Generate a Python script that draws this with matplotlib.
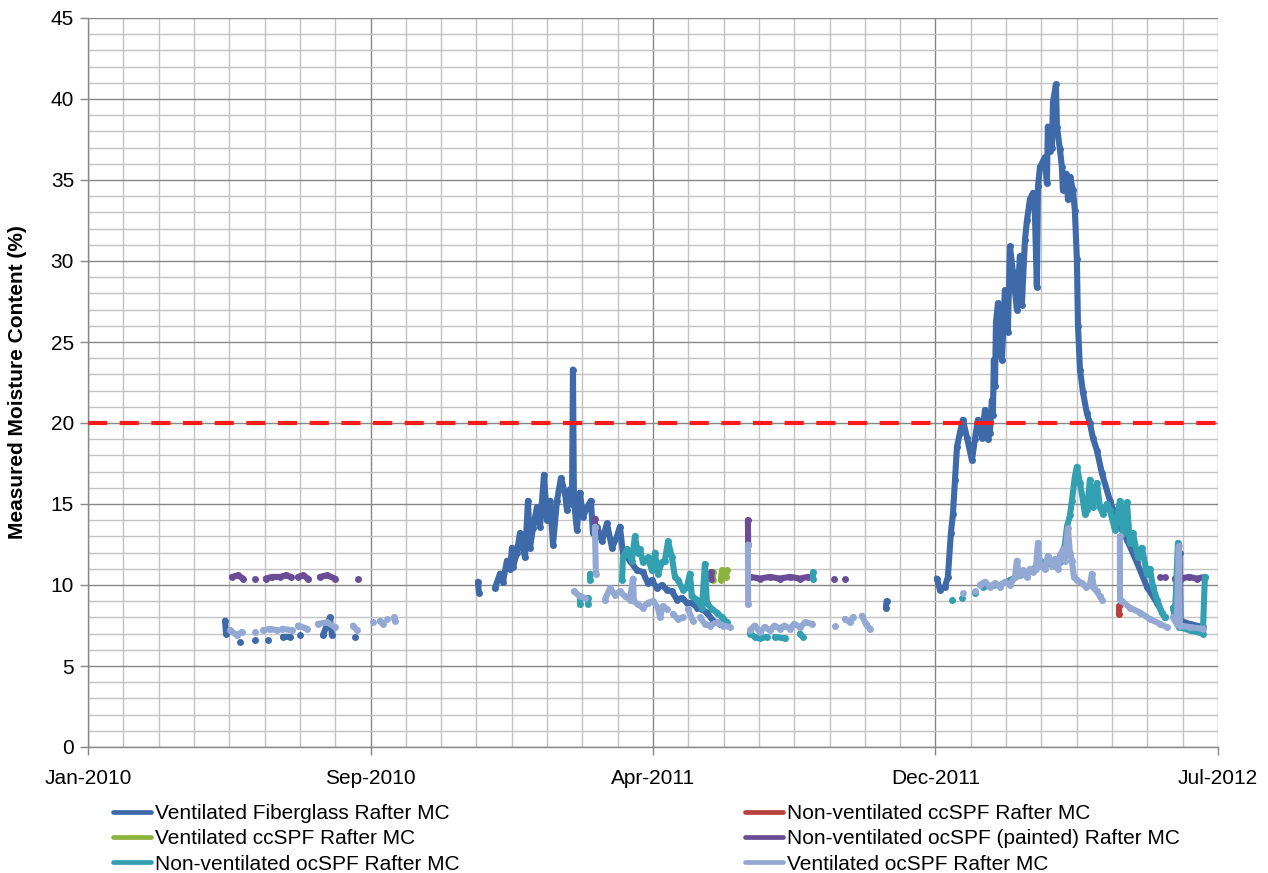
import numpy as np
import matplotlib
matplotlib.use('Agg')
import matplotlib.pyplot as plt
from matplotlib import font_manager
from matplotlib.ticker import MultipleLocator, FixedLocator
from matplotlib.lines import Line2D

nan = np.nan

# ---------------- data (x = days from axis start, y = moisture content %) -------------
x_tick_days = [0, 228, 456, 684, 912]
x_tick_labels = ['Jan-2010', 'Sep-2010', 'Apr-2011', 'Dec-2011', 'Jul-2012']
threshold_mc = 20

series_names = ['Ventilated Fiberglass Rafter MC',
                'Non-ventilated ccSPF Rafter MC',
                'Ventilated ccSPF Rafter MC',
                'Non-ventilated ocSPF (painted) Rafter MC',
                'Non-ventilated ocSPF Rafter MC',
                'Ventilated ocSPF Rafter MC']

fg_day = [110.6, 111.4, nan, 122.7, nan, 134.8, nan, 145.3, nan, 157.4, 163.0, nan, 171.1, nan,
          189.6, 195.3, 196.9, nan, 215.5, nan,
          314.7, 315.5, nan,
          328.4, 332.5, 334.9, 338.1, 340.6, 342.2, 343.0, 346.2, 348.6, 352.7, 355.1, 356.7, 359.1,
          362.3, 364.8, 368.0, 370.4, 372.8, 375.3, 378.5, 381.7, 384.9, 386.6, 389.0, 390.6, 391.4,
          392.2, 394.6, 397.0, 399.5, 402.7, 405.9, 407.5, 410.8, 414.8, 418.8, 422.9, 426.9, 429.3,
          431.7, 437.4, 443.0, 447.9, 451.9, 455.1, 459.2, 463.2, 467.3, 471.3, 475.3, 479.4, 483.4,
          487.4, 491.5, 495.5, 499.5, 504.4, 510.0, nan,
          644.0, 644.5, nan,
          685.1, 687.6, 691.6, 694.0, 696.4, 698.1, 699.7, 701.3, 703.7, 706.1, 709.4, 713.4, 715.8,
          718.2, 721.5, 723.9, 726.3, 727.9, 729.5, 730.3, 731.1, 732.0, 732.8, 734.4, 736.0, 737.6,
          740.0, 742.4, 744.1, 746.5, 749.7, 752.1, 753.7, 756.2, 757.8, 760.2, 762.6, 764.2, 765.8,
          766.7, 768.3, 772.3, 773.9, 774.7, 776.3, 778.0, 778.8, 781.2, 782.0, 784.4, 786.0, 786.8,
          789.3, 790.9, 792.5, 794.9, 796.5, 798.1, 799.0, 800.6, 803.0, 806.2, 808.6, 811.0, 814.3,
          818.3, 824.8, 830.4, 838.5, 846.5, 854.6, 862.7, 869.1, nan,
          881.0, 881.8, 889.0, 899.8]
fg_mc = [7.8, 7.0, nan, 6.5, nan, 6.6, nan, 6.6, nan, 6.8, 6.8, nan, 6.9, nan,
         6.9, 8.0, 6.9, nan, 6.8, nan,
         10.2, 9.5, nan,
         9.8, 10.7, 10.2, 11.5, 11.0, 12.3, 11.1, 12.0, 13.2, 11.7, 15.2, 12.3, 13.5,
         14.8, 13.6, 16.8, 14.0, 15.2, 12.5, 15.2, 16.6, 15.7, 14.6, 15.9, 15.0, 23.3,
         15.2, 13.4, 15.7, 14.2, 14.8, 15.2, 13.2, 13.6, 12.7, 13.8, 12.3, 13.0, 13.6,
         12.0, 11.5, 10.9, 10.8, 10.1, 10.3, 9.8, 10.0, 9.7, 9.6, 9.1, 9.2, 8.9,
         8.9, 8.6, 8.5, 8.3, 7.8, 7.6, nan,
         8.6, 9.0, nan,
         10.4, 9.7, 9.9, 10.5, 13.2, 14.4, 16.5, 18.5, 19.4, 20.2, 19.1, 17.7, 19.0,
         20.2, 19.1, 20.8, 19.0, 19.4, 21.4, 20.5, 23.9, 22.3, 26.2, 27.4, 25.0, 23.9,
         28.2, 25.6, 30.9, 29.3, 27.0, 30.3, 27.3, 31.3, 32.5, 33.8, 34.2, 33.0, 28.4,
         34.6, 35.8, 36.4, 34.8, 38.3, 36.8, 37.0, 39.8, 40.9, 38.3, 36.9, 35.8, 34.4,
         35.4, 33.8, 35.2, 34.4, 33.1, 30.1, 26.0, 23.3, 21.9, 20.6, 20.0, 19.1, 18.3,
         16.9, 15.2, 14.0, 12.8, 11.4, 9.9, 8.9, 8.0, nan,
         12.0, 7.8, 7.6, 7.4]

nvcc_day = [832.0, 832.2]
nvcc_mc = [8.2, 8.7]

vcc_day = [504.4, 504.6, nan, 510.8, 511.6, 514.9, 515.7]
vcc_mc = [10.3, 10.8, nan, 10.3, 10.9, 10.5, 10.9]

nvocp_day = [116.2, 121.1, 125.1, nan, 134.8, nan, 143.6, 148.5, 155.0, 159.8, 163.8, nan,
             169.5, 173.5, 177.5, nan, 187.2, 192.9, 199.3, nan, 217.9, nan,
             409.1, 409.3, nan, 502.8, 503.0, nan, 532.6, 532.8, nan,
             534.2, 542.3, 550.4, 558.4, 566.5, 574.6, 581.0, nan, 602.0, nan, 610.9, nan,
             865.1, nan, 869.1, nan, 877.2, 882.0, 888.5, 895.0, 901.4]
nvocp_mc = [10.5, 10.6, 10.4, nan, 10.4, nan, 10.4, 10.5, 10.5, 10.6, 10.5, nan,
            10.5, 10.6, 10.4, nan, 10.5, 10.6, 10.4, nan, 10.4, nan,
            14.1, 13.3, nan, 10.4, 10.8, nan, 14.0, 12.5, nan,
            10.5, 10.4, 10.5, 10.4, 10.5, 10.4, 10.5, nan, 10.4, nan, 10.4, nan,
            10.5, nan, 10.5, nan, 10.4, 10.4, 10.5, 10.4, 10.5]

nvoc_day = [397.0, 397.2, nan, 403.5, 403.7, nan, 405.1, 405.3, nan,
            431.0, 431.7, 435.0, 439.0, 441.4, 443.9, 445.5, 447.9, 451.9, 455.1, 457.6, 460.0,
            463.2, 465.6, 468.1, 471.3, 473.7, 476.1, 480.2, 483.4, 485.8, 487.4, 491.5, 495.5,
            497.9, 499.5, 503.6, 507.6, 511.6, 515.7, nan,
            534.2, 538.3, 542.3, 548.0, nan, 554.4, 562.5, nan, 574.6, 577.0, nan, 585.1, 585.3, nan,
            697.2, nan, 705.3, nan, 715.8, nan,
            722.3, 736.0, 744.1, 752.1, 762.6, 768.3, 772.3, 776.3, 784.4, 788.4, 790.1, 792.5,
            794.1, 796.5, 798.1, 800.6, 803.0, 804.6, 806.2, 808.6, 811.0, 814.3, 816.7, 819.1,
            822.3, 824.8, 828.8, 832.8, 835.3, 838.5, 840.9, 843.3, 847.4, 850.6, 854.6, 857.0,
            859.5, 862.7, 866.7, 869.1, nan,
            875.6, 877.2, 879.7, 880.5, 889.3, 899.8, 901.4]
nvoc_mc = [9.2, 8.8, nan, 9.2, 8.8, nan, 10.3, 10.7, nan,
           10.3, 11.7, 12.2, 11.5, 13.0, 12.0, 12.2, 11.4, 11.7, 10.9, 12.0, 10.7,
           11.4, 11.5, 12.7, 11.7, 10.5, 10.3, 9.7, 9.9, 10.7, 9.3, 9.1, 8.6,
           11.3, 8.9, 8.5, 8.3, 8.0, 7.7, nan,
           7.0, 6.8, 6.7, 6.8, nan, 6.8, 6.7, nan, 7.0, 6.8, nan, 10.4, 10.8, nan,
           9.1, nan, 9.2, nan, 9.5, nan,
           9.9, 10.0, 10.3, 10.6, 10.9, 11.5, 11.3, 11.3, 11.4, 12.5, 13.6, 14.3,
           15.2, 16.7, 17.3, 16.3, 15.2, 14.4, 14.6, 16.5, 14.8, 16.3, 14.8, 14.4,
           15.0, 14.6, 13.4, 15.2, 13.2, 15.1, 12.6, 13.2, 11.7, 12.3, 10.7, 11.0,
           9.9, 9.1, 8.3, 8.0, nan,
           8.6, 8.0, 12.6, 7.4, 7.2, 7.0, 10.5]

voc_day = [114.6, 120.3, 124.3, nan, 134.8, nan, 141.2, 146.9, 152.5, nan, 156.6, 164.6, nan,
           169.5, 176.7, nan, 185.6, 192.9, 199.3, nan, 213.9, 217.1, nan, 230.0, nan,
           235.6, 238.1, nan, 241.3, nan, 247.0, 247.7, nan,
           392.2, 397.0, 401.1, nan, 409.1, 409.9, nan,
           417.2, 421.3, 425.3, 429.3, 433.4, 437.4, 439.8, 440.6, 443.9, 447.9, 451.9, 455.9,
           460.0, 461.6, 464.0, 467.3, nan, 472.1, 476.1, 480.2, nan, 484.2, 488.2, nan,
           493.9, 497.9, 502.0, 507.6, 512.5, 518.1, nan,
           532.6, 532.8, nan,
           534.2, 538.0, 542.3, 546.0, 550.4, 554.0, 558.4, 562.0, 566.5, 570.0, 574.6, 579.0,
           584.3, nan, 602.8, nan, 610.9, 615.0, 617.4, nan, 624.6, 627.8, 631.1, nan,
           706.1, nan, 715.8, nan,
           719.8, 723.9, 727.9, 732.0, 736.0, 740.0, 744.1, 748.1, 749.7, 751.3, 754.5, 757.8,
           760.2, 762.6, 765.0, 766.7, 768.3, 772.3, 774.7, 778.0, 780.4, 782.8, 784.4, 786.8,
           788.4, 790.9, 792.5, 794.1, 795.7, 798.1, 802.2, 805.4, 808.6, 810.2, 811.8, 814.3,
           816.7, 818.3, nan,
           832.8, 832.9, 834.4, 840.9, 849.0, 857.0, 865.1, 870.7, nan,
           875.6, 878.8, 880.4, 881.2, 889.3, 899.8]
voc_mc = [7.2, 6.9, 7.1, nan, 7.1, nan, 7.2, 7.3, 7.2, nan, 7.3, 7.2, nan,
          7.5, 7.3, nan, 7.6, 7.7, 7.4, nan, 7.5, 7.2, nan, 7.7, nan,
          7.8, 7.6, nan, 7.9, nan, 8.0, 7.8, nan,
          9.6, 9.3, 9.2, nan, 13.6, 10.7, nan,
          9.1, 9.8, 9.4, 9.6, 9.3, 9.1, 10.4, 9.0, 8.8, 8.6, 8.9, 9.0,
          8.6, 8.0, 8.7, 8.5, nan, 8.2, 7.9, 8.0, nan, 8.5, 7.8, nan,
          8.0, 7.6, 7.5, 7.7, 7.5, 7.4, nan,
          12.5, 8.8, nan,
          7.2, 7.5, 7.1, 7.4, 7.2, 7.5, 7.3, 7.5, 7.3, 7.6, 7.4, 7.7,
          7.6, nan, 7.5, nan, 7.9, 7.7, 8.0, nan, 8.1, 7.6, 7.3, nan,
          9.5, nan, 9.6, nan,
          10.0, 10.2, 9.9, 10.1, 9.9, 10.2, 10.0, 10.5, 11.5, 10.6, 10.9, 10.5,
          11.0, 10.8, 11.0, 12.6, 11.2, 11.0, 11.8, 11.2, 11.6, 11.0, 11.8, 12.2,
          11.5, 13.5, 12.0, 11.5, 10.5, 10.3, 10.1, 9.9, 10.0, 10.7, 9.8, 9.6,
          9.3, 9.1, nan,
          13.0, 9.1, 9.0, 8.6, 8.3, 7.9, 7.6, 7.4, nan,
          8.0, 7.6, 12.4, 7.5, 7.4, 7.3]

series_days = [fg_day, nvcc_day, vcc_day, nvocp_day, nvoc_day, voc_day]
series_mc = [fg_mc, nvcc_mc, vcc_mc, nvocp_mc, nvoc_mc, voc_mc]
series_colors = ['#3F6AA9', '#B8403E', '#8DB33F', '#6A4D96', '#33A0B2', '#93A9D3']

for d, m in zip(series_days, series_mc):
    assert len(d) == len(m)

# ---------------- fonts ----------------
avail = {f.name for f in font_manager.fontManager.ttflist}
base_font = 'Liberation Sans Narrow' if 'Liberation Sans Narrow' in avail else 'Liberation Sans'
plt.rcParams['font.family'] = [base_font, 'DejaVu Sans']

W, H = 1268, 873
fig = plt.figure(figsize=(W / 100, H / 100), dpi=100)
L, R, B, T = 88, 1218, 747, 18
ax = fig.add_axes([L / W, (H - B) / H, (R - L) / W, (B - T) / H])

grid_major = '#878787'
grid_minor = '#C3C3C3'

ax.set_xlim(0, 912)
ax.set_ylim(0, 45)
ax.xaxis.set_major_locator(FixedLocator(x_tick_days))
ax.set_xticklabels(x_tick_labels)
ax.xaxis.set_minor_locator(MultipleLocator(28.5))
ax.yaxis.set_major_locator(MultipleLocator(5))
ax.yaxis.set_minor_locator(MultipleLocator(1))

ax.set_axisbelow(True)
ax.grid(which='minor', color=grid_minor, lw=1.0)
ax.grid(which='major', color=grid_major, lw=1.0)
for s in ['top', 'right']:
    ax.spines[s].set_visible(False)
for s in ['left', 'bottom']:
    ax.spines[s].set_color(grid_major)
    ax.spines[s].set_linewidth(1.0)

ax.tick_params(which='major', length=6, width=1, color=grid_major, direction='out',
               labelsize=15, labelcolor='#000000')
ax.tick_params(axis='x', which='major', pad=10)
ax.tick_params(axis='y', which='major', pad=4)
ax.tick_params(which='minor', length=0)

ax.set_ylabel('Measured Moisture Content (%)', fontsize=15, fontweight='bold')
ax.yaxis.set_label_coords((27 - L) / (R - L), 0.5)

lw = 4.4
handles = []
for name, d, m, c in zip(series_names, series_days, series_mc, series_colors):
    ax.plot(d, m, color=c, lw=lw, solid_capstyle='round', solid_joinstyle='round',
            marker='o', markersize=5.0, markeredgewidth=0, markerfacecolor=c)
    handles.append(Line2D([0], [0], color=c, lw=3.4, solid_capstyle='round', label=name))

ax.axhline(threshold_mc, color='#FF1A1A', lw=3.0, dashes=(4.6, 3.0), zorder=5)

# legend: two columns, read row-wise
leg_kw = dict(frameon=False, fontsize=15, handlelength=1.8, handletextpad=0.2,
              labelspacing=0.3, borderpad=0, borderaxespad=0, loc='upper left')
leg1 = fig.legend(handles=[handles[0], handles[2], handles[4]],
                  bbox_to_anchor=(113 / W, 1 - 804 / H), **leg_kw)
leg2 = fig.legend(handles=[handles[1], handles[3], handles[5]],
                  bbox_to_anchor=(745 / W, 1 - 804 / H), **leg_kw)

fig.savefig('out.png', dpi=100)
